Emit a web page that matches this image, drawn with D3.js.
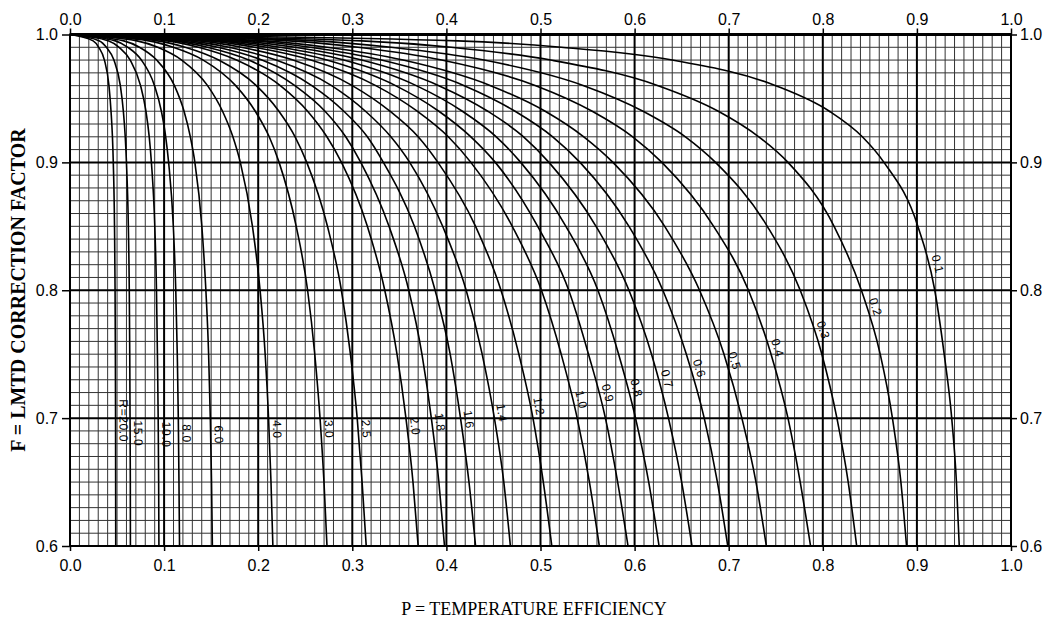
<!DOCTYPE html>
<html>
<head>
<meta charset="utf-8">
<script src="https://cdn.jsdelivr.net/npm/d3@7"></script>
<style>
  body { margin: 0; background: #fff; }
  svg { display: block; }
  .axis .tick text {
    font-family: "Liberation Sans Narrow", "Arial Narrow", "Liberation Sans", sans-serif;
    font-size: 16px;
    fill: #000;
  }
  .axis .tick line { stroke: #000; stroke-width: 1.5; }
  .axis .domain { display: none; }
  .curve-label {
    font-family: "Liberation Sans", Arial, sans-serif;
    font-size: 12px;
    letter-spacing: 0.6px;
    fill: #000;
  }
  .title-left { font-family: "Liberation Serif", "Times New Roman", serif; font-weight: bold; font-size: 20px; }
  .title-bottom { font-family: "Liberation Serif", "Times New Roman", serif; font-size: 18px; }
</style>
</head>
<body>
<svg id="chart" width="1049" height="624"></svg>
<script>
// Correction factor levels at which each R curve is sampled (P read at these F values)
const F_LEVELS = [0.995, 0.99, 0.98, 0.96, 0.94, 0.92, 0.90, 0.85, 0.80, 0.75, 0.70, 0.65, 0.60];

// P = temperature efficiency of each R curve at the F levels above
const P_R0_1 = [0.412, 0.522, 0.640, 0.750, 0.807, 0.842, 0.865, 0.901, 0.919, 0.929, 0.937, 0.942, 0.945];
const P_R0_2 = [0.310, 0.405, 0.511, 0.625, 0.689, 0.732, 0.763, 0.812, 0.841, 0.861, 0.874, 0.883, 0.889];
const P_R0_3 = [0.261, 0.341, 0.440, 0.546, 0.609, 0.654, 0.686, 0.741, 0.776, 0.799, 0.815, 0.827, 0.836];
const P_R0_4 = [0.2325, 0.306, 0.395, 0.495, 0.555, 0.598, 0.629, 0.684, 0.721, 0.745, 0.763, 0.776, 0.787];
const P_R0_5 = [0.206, 0.273, 0.354, 0.447, 0.505, 0.546, 0.577, 0.632, 0.669, 0.695, 0.714, 0.729, 0.740];
const P_R0_6 = [0.193, 0.255, 0.331, 0.419, 0.473, 0.513, 0.542, 0.594, 0.630, 0.655, 0.674, 0.688, 0.699];
const P_R0_7 = [0.180, 0.239, 0.310, 0.392, 0.444, 0.482, 0.509, 0.559, 0.594, 0.618, 0.636, 0.650, 0.661];
const P_R0_8 = [0.168, 0.223, 0.291, 0.368, 0.417, 0.453, 0.479, 0.527, 0.561, 0.583, 0.601, 0.615, 0.626];
const P_R0_9 = [0.158, 0.209, 0.273, 0.346, 0.392, 0.426, 0.452, 0.497, 0.530, 0.551, 0.569, 0.582, 0.593];
const P_R1_0 = [0.148, 0.196, 0.256, 0.325, 0.369, 0.402, 0.426, 0.470, 0.501, 0.522, 0.539, 0.552, 0.5625];
const P_R1_2 = [0.137, 0.182, 0.237, 0.300, 0.340, 0.370, 0.391, 0.431, 0.458, 0.477, 0.492, 0.503, 0.512];
const P_R1_4 = [0.127, 0.169, 0.219, 0.278, 0.314, 0.341, 0.361, 0.396, 0.421, 0.438, 0.451, 0.461, 0.468];
const P_R1_6 = [0.118, 0.157, 0.204, 0.257, 0.291, 0.316, 0.333, 0.366, 0.388, 0.404, 0.415, 0.424, 0.431];
const P_R1_8 = [0.110, 0.146, 0.190, 0.239, 0.271, 0.293, 0.309, 0.339, 0.360, 0.374, 0.384, 0.392, 0.398];
const P_R2_0 = [0.103, 0.1365, 0.177, 0.2235, 0.2525, 0.273, 0.2885, 0.316, 0.3345, 0.3475, 0.357, 0.3645, 0.370];
const P_R2_5 = [0.093, 0.1224, 0.158, 0.198, 0.222, 0.2392, 0.2516, 0.2736, 0.2884, 0.298, 0.3052, 0.3104, 0.3148];
const P_R3_0 = [0.0838, 0.1097, 0.1416, 0.1761, 0.1969, 0.2117, 0.2222, 0.2404, 0.2525, 0.2601, 0.2657, 0.2699, 0.2731];
const P_R4_0 = [0.0712, 0.0932, 0.1187, 0.1462, 0.1621, 0.1731, 0.181, 0.1939, 0.202, 0.2074, 0.211, 0.2136, 0.2156];
const P_R6_0 = [0.0572, 0.0738, 0.0921, 0.111, 0.1212, 0.1279, 0.1327, 0.1401, 0.1444, 0.1473, 0.1491, 0.1504, 0.1513];
const P_R8_0 = [0.0482, 0.0615, 0.0759, 0.0898, 0.0971, 0.1017, 0.1048, 0.1098, 0.1124, 0.114, 0.1151, 0.1158, 0.1164];
const P_R10 = [0.0412, 0.0522, 0.064, 0.075, 0.0807, 0.0842, 0.0865, 0.0901, 0.0919, 0.0929, 0.0937, 0.0942, 0.0945];
const P_R15 = [0.0313, 0.0387, 0.0467, 0.0535, 0.0567, 0.0587, 0.060, 0.062, 0.063, 0.0635, 0.0638, 0.0641, 0.0642];
const P_R20 = [0.0246, 0.0305, 0.0366, 0.0414, 0.0436, 0.0451, 0.046, 0.0473, 0.0479, 0.0482, 0.0484, 0.0485, 0.0486];

// Curve names (R values) in the same order
const R_LABELS = ["0.1", "0.2", "0.3", "0.4", "0.5", "0.6", "0.7", "0.8", "0.9", "1.0",
                  "1.2", "1.4", "1.6", "1.8", "2.0", "2.5", "3.0", "4.0", "6.0", "8.0",
                  "10.0", "15.0", "R=20.0"];
const R_CURVES = [P_R0_1, P_R0_2, P_R0_3, P_R0_4, P_R0_5, P_R0_6, P_R0_7, P_R0_8, P_R0_9, P_R1_0,
                  P_R1_2, P_R1_4, P_R1_6, P_R1_8, P_R2_0, P_R2_5, P_R3_0, P_R4_0, P_R6_0, P_R8_0,
                  P_R10, P_R15, P_R20];

// Axis tick values
const P_TICKS = [0.0, 0.1, 0.2, 0.3, 0.4, 0.5, 0.6, 0.7, 0.8, 0.9, 1.0];
const F_TICKS = [0.6, 0.7, 0.8, 0.9, 1.0];

// Where along each curve its R label is written (F value of the label centre)
const LABEL_AT_F = [0.819, 0.785, 0.767, 0.753, 0.743, 0.737, 0.729, 0.722, 0.718, 0.713,
                    0.708, 0.703, 0.698, 0.696, 0.693, 0.691, 0.691, 0.691, 0.687, 0.688,
                    0.687, 0.688, 0.698];

const svg = d3.select("#chart");
const x = d3.scaleLinear().domain([0, 1]).range([70, 1011]);
const y = d3.scaleLinear().domain([0.6, 1.0]).range([546, 34.5]);

// ---- grid ----
const grid = svg.append("g");
const minorP = d3.range(1, 100).filter(i => i % 10 !== 0).map(i => i / 100);
const minorF = d3.range(61, 100).filter(i => i % 10 !== 0).map(i => i / 100);
grid.selectAll(".vminor").data(minorP).join("line")
  .attr("x1", d => x(d)).attr("x2", d => x(d))
  .attr("y1", y(1)).attr("y2", y(0.6))
  .attr("stroke", "#333").attr("stroke-width", 1);
grid.selectAll(".hminor").data(minorF).join("line")
  .attr("x1", x(0)).attr("x2", x(1))
  .attr("y1", d => y(d)).attr("y2", d => y(d))
  .attr("stroke", "#333").attr("stroke-width", 1);
grid.selectAll(".vmajor").data(P_TICKS).join("line")
  .attr("x1", d => x(d)).attr("x2", d => x(d))
  .attr("y1", y(1)).attr("y2", y(0.6))
  .attr("stroke", "#000").attr("stroke-width", 2);
grid.selectAll(".hmajor").data(F_TICKS).join("line")
  .attr("x1", x(0)).attr("x2", x(1))
  .attr("y1", d => y(d)).attr("y2", d => y(d))
  .attr("stroke", "#000").attr("stroke-width", 2);
// heavier line along F = 1.0
grid.append("line")
  .attr("x1", x(0)).attr("x2", x(1)).attr("y1", y(1)).attr("y2", y(1))
  .attr("stroke", "#000").attr("stroke-width", 3);

// ---- axes ----
const fmt = d3.format(".1f");
svg.append("g").attr("class", "axis").attr("transform", `translate(0,${y(1)})`)
  .call(d3.axisTop(x).tickValues(P_TICKS).tickFormat(fmt).tickSize(6).tickPadding(4));
svg.append("g").attr("class", "axis").attr("transform", `translate(0,${y(0.6)})`)
  .call(d3.axisBottom(x).tickValues(P_TICKS).tickFormat(fmt).tickSize(5).tickPadding(9));
svg.append("g").attr("class", "axis").attr("transform", `translate(${x(0)},0)`)
  .call(d3.axisLeft(y).tickValues(F_TICKS).tickFormat(fmt).tickSize(8).tickPadding(4));
svg.append("g").attr("class", "axis").attr("transform", `translate(${x(1)},0)`)
  .call(d3.axisRight(y).tickValues(F_TICKS).tickFormat(fmt).tickSize(6).tickPadding(3));

// ---- R curves ----
const line = d3.line().x(d => x(d[0])).y(d => y(d[1])).curve(d3.curveMonotoneX);
const curveG = svg.append("g");
const labelG = svg.append("g");

R_CURVES.forEach((pVals, i) => {
  const pts = [[0, 1.0]].concat(pVals.map((p, k) => [p, F_LEVELS[k]]));
  const path = curveG.append("path")
    .attr("d", line(pts))
    .attr("fill", "none")
    .attr("stroke", "#000")
    .attr("stroke-width", 1.6);

  // locate the label point on the drawn curve
  const node = path.node();
  const total = node.getTotalLength();
  const targetY = y(LABEL_AT_F[i]);
  let lo = 0, hi = total;
  for (let it = 0; it < 40; it++) {
    const mid = (lo + hi) / 2;
    if (node.getPointAtLength(mid).y < targetY) lo = mid; else hi = mid;
  }
  const L = (lo + hi) / 2;
  const a = node.getPointAtLength(Math.max(0, L - 3));
  const b = node.getPointAtLength(Math.min(total, L + 3));
  const pt = node.getPointAtLength(L);
  let dx = b.x - a.x, dy = b.y - a.y;
  const len = Math.hypot(dx, dy) || 1;
  dx /= len; dy /= len;
  const angle = Math.atan2(dy, dx) * 180 / Math.PI;
  const off = 8;
  const lx = pt.x + dy * off, ly = pt.y - dx * off;
  labelG.append("text")
    .attr("class", "curve-label")
    .attr("transform", `translate(${lx},${ly}) rotate(${angle})`)
    .attr("text-anchor", "middle")
    .attr("dominant-baseline", "central")
    .text(R_LABELS[i]);
});

// ---- frame ----
svg.append("rect")
  .attr("x", x(0)).attr("y", y(1))
  .attr("width", x(1) - x(0)).attr("height", y(0.6) - y(1))
  .attr("fill", "none").attr("stroke", "#000").attr("stroke-width", 2);

// ---- axis titles ----
svg.append("text").attr("class", "title-left")
  .attr("transform", "translate(18,290) rotate(-90)")
  .attr("text-anchor", "middle").attr("dominant-baseline", "central")
  .text("F = LMTD CORRECTION FACTOR");
svg.append("text").attr("class", "title-bottom")
  .attr("x", 534).attr("y", 615)
  .attr("text-anchor", "middle")
  .text("P = TEMPERATURE EFFICIENCY");
</script>
</body>
</html>
